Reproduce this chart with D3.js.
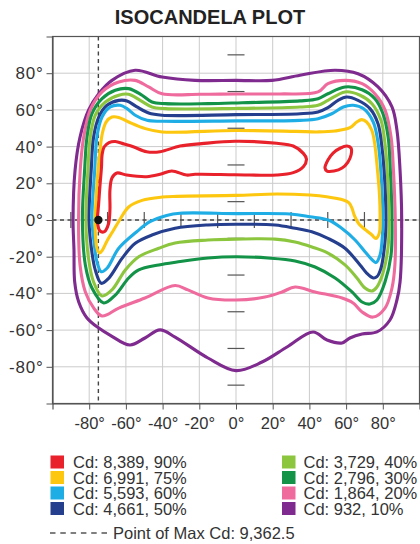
<!DOCTYPE html>
<html><head><meta charset="utf-8">
<script src="https://cdn.jsdelivr.net/npm/d3@7"></script>
<style>
html,body{margin:0;padding:0;background:#fff;}
svg{display:block;font-family:"Liberation Sans",Arial,Helvetica,sans-serif;}
</style></head><body>
<svg id="chart" width="420" height="544"></svg>
<script>
// ---------- data ----------
const title = "ISOCANDELA PLOT";
const xTicks = [-80,-60,-40,-20,0,20,40,60,80];
const yTicks = [80,60,40,20,0,-20,-40,-60,-80];
const gridValues = [-80,-60,-40,-20,0,20,40,60,80];
const centerTicks = [-90,-70,-50,-30,-10,10,30,50,70,90];
const maxPoint = [-75, 0];
const maxLabel = "Point of Max Cd: 9,362.5";
const levelLabels = ["Cd: 8,389, 90%","Cd: 6,991, 75%","Cd: 5,593, 60%","Cd: 4,661, 50%",
                     "Cd: 3,729, 40%","Cd: 2,796, 30%","Cd: 1,864, 20%","Cd: 932, 10%"];
const levelColors = ["#e8212b","#fdc70f","#1fade6","#253f8e","#8cc63f","#129347","#ef6b9d","#7f2a8e"];

// contour points [horizontal deg, vertical deg]
const cd90 = [[-73,35.4],[-71.9,39.8],[-69.2,42.2],[-65.8,42.8],[-61,41.4],[-56,39.9],[-48.7,37.2],[-41.4,37.2],[-30.5,40.3],[-18.7,41.6],[-0.5,42.9],[22.2,41.8],[31.2,40.3],[36.7,36.3],[38.4,33.2],[36.7,29],[31.2,25.8],[22.2,24.5],[-0.5,24.7],[-22.3,24.9],[-26.9,24.5],[-35,26.7],[-41.4,24.9],[-48.7,23.6],[-59.6,24.5],[-64.9,25.6],[-67.6,22.9],[-68.7,16.3],[-68.7,5.4],[-69.5,-2.2],[-71.7,-6.3],[-74.1,-6],[-75.5,-1.1],[-74.9,8.2],[-74.1,19.1],[-73.3,28.9]];
const cd90b = [[48.5,28.3],[50.1,32.7],[52.9,36.5],[56.7,39.1],[60.5,40.3],[62.7,39.2],[62.7,35.4],[61,31.6],[57.8,28.3],[53.4,26.7],[49.6,26.7]];
const cd75 = [[-76.8,0],[-76.3,10.9],[-75.2,27.2],[-74.1,38.1],[-72.8,47.4],[-70.8,53.4],[-67.6,56.1],[-63.9,55.9],[-58.5,53.4],[-49.4,49.8],[-40.3,48],[0,48.8],[32.2,48.3],[44.9,48],[54,48.5],[62.1,50.3],[65.8,53.4],[68.5,54.7],[71.2,53.4],[74,48.9],[75.6,41.6],[77.1,27.2],[78.2,13.6],[78.5,0],[78.1,-7.1],[76.3,-10.1],[74.1,-8.2],[70.8,-5.5],[67,-2.2],[64.6,2.2],[63.2,6.5],[61.6,9.3],[58.5,10.9],[49.4,12.7],[40.3,13.6],[22.2,14.2],[0,13.4],[-32.2,12.9],[-40.3,12.5],[-51.2,10.7],[-58.5,7.1],[-63.4,0],[-67,-6],[-70.3,-11.4],[-72.8,-16.4],[-74.4,-18],[-75.8,-15.3],[-76.6,-8.2]];
const cd60 = [[-78.5,0],[-77,27.2],[-75.8,45.2],[-73,56.1],[-68.5,61.6],[-63.1,62.5],[-59.4,60.7],[-54.9,57.1],[-48.5,54.3],[-40.3,53.8],[0,54],[34.9,54.3],[44.7,55.2],[52.2,57.9],[58.5,61.6],[63.9,62.5],[69.4,60.7],[74.8,53.4],[77.5,41.6],[78.9,27.2],[80.1,0],[79.8,-8.2],[78.5,-19.1],[76.3,-23.2],[74.3,-21.8],[70.3,-17.3],[64.9,-10.9],[57.6,-4.5],[50.3,0],[40.3,1.8],[29.4,3.3],[0,3.5],[-30.5,3.7],[-37.8,2.5],[-46.9,-0.9],[-54.1,-6.4],[-63.9,-15.4],[-70.3,-26.3],[-73.4,-28.2],[-75.8,-22.7],[-77.4,-11.8]];
const cd50 = [[-80.1,0],[-78.9,27.2],[-77.6,45.2],[-74.8,56.1],[-70.3,62.5],[-63.9,65.2],[-59.4,64.9],[-54,61.6],[-47.6,58.3],[-40.3,57.1],[0,57.4],[34.9,57.9],[44.7,58.9],[50.1,61.2],[55.6,65.2],[60.3,67],[66.5,65.2],[73,60.7],[77.4,52.5],[79.3,41.6],[80.7,27.2],[81.7,0],[81.2,-11.8],[79,-26.2],[76.8,-30.9],[74.8,-31.6],[71.2,-28.9],[67.6,-24.5],[59.4,-15.4],[50.1,-10],[41.3,-6.4],[32.2,-4.5],[21.3,-2.7],[0,-2.3],[-15.3,-2.7],[-33.2,-4.5],[-45.8,-8.2],[-54.9,-12.7],[-62.1,-20.9],[-69.4,-31.8],[-73.4,-34.5],[-76.7,-27.2],[-78.8,-15.4]];
const cd40 = [[-81.8,0],[-80.7,27.2],[-79.4,45.2],[-76.7,57.1],[-71.2,64.3],[-63.9,68],[-58.5,68.5],[-52.2,65.2],[-45.8,61.6],[-38.5,60.7],[0,60.8],[34.9,61.6],[44.7,62.5],[50.1,65.2],[59.4,69.8],[67.6,68],[74.1,63.4],[79,54.3],[81.2,41.6],[82.4,27.2],[83.4,0],[82.8,-15.3],[80.1,-28.9],[76.8,-36.5],[74.1,-38.7],[70.3,-37.1],[65.9,-31.6],[59.4,-24.5],[50.1,-18],[41.4,-14.7],[32.2,-12],[21.3,-10.4],[0,-10.4],[-15.3,-10.9],[-33.2,-12.5],[-42.1,-15.4],[-53,-20],[-60.3,-27.2],[-67.6,-38.1],[-73,-41.4],[-77.6,-33.8],[-80.4,-20.7]];
const cd30 = [[-83.7,0],[-82.5,27.2],[-81.2,45.2],[-78.5,57.9],[-73,66.1],[-65.8,70.7],[-58.5,71.6],[-51.2,68],[-45.8,64.3],[-38.5,63.4],[-15.3,63.4],[3.3,63.9],[34.9,64.9],[44.7,66.1],[50.1,68.8],[59.4,72.5],[68.7,71],[75.7,66.1],[80.1,57.9],[82.9,45.2],[84.1,27.2],[85,0],[84.5,-19.1],[81.2,-33.8],[76.8,-43.6],[73,-45.8],[68.7,-44.7],[63.2,-39.2],[54,-31.6],[43.1,-25.6],[32.2,-22.3],[17.4,-20.7],[0,-20],[-15.3,-20.7],[-32.2,-22.9],[-42.1,-24.5],[-53,-27.2],[-58.5,-31.6],[-65.8,-40.9],[-72.1,-45.2],[-78.5,-37.1],[-82.1,-24.5]];
const cd20 = [[-85.8,0],[-85,-24.5],[-82.1,-39.2],[-77.5,-48],[-73,-52.3],[-63.9,-48],[-49.6,-42.5],[-33.2,-35.7],[-26.2,-38.1],[-15.3,-42.5],[0,-43.6],[15.8,-42],[25.1,-39.2],[32.2,-36.5],[43.1,-39.2],[57.8,-42.5],[63.8,-45.2],[68.7,-50.1],[74.7,-52.9],[81.2,-48],[85,-37.1],[86.6,-24.5],[86.8,0],[85.8,27.2],[84.5,45.2],[81.2,60],[75.7,68.8],[68.7,74.3],[59.4,76.1],[50.1,74.3],[44.7,69.8],[24,68.7],[0,68.7],[-19.6,68.5],[-40.3,68.8],[-47.6,72.5],[-54.9,76.1],[-63.9,75.2],[-73,69.8],[-79.4,60],[-83,45.2],[-84.9,27.2]];
const cd10 = [[-88.8,0],[-88.3,-16],[-87.9,-33.8],[-85.7,-44.7],[-81.2,-53.4],[-74.8,-58.9],[-68.7,-62.7],[-57.8,-68.1],[-49.6,-64.3],[-41.4,-59.9],[-33.2,-63.8],[-15.3,-75.2],[0,-82.1],[14.2,-77.4],[27.8,-69.2],[42,-61],[49.6,-65.4],[57.8,-67],[62.1,-64.3],[68.7,-62.1],[76.8,-61],[83.9,-54.5],[87.7,-43.6],[89.4,-33.8],[90.3,0],[89.4,27.2],[87.7,49],[85,61.6],[77.4,72.5],[66.5,79.7],[54,81.6],[34.9,78.9],[19.6,76.1],[0,76.1],[-22.3,76.1],[-40.3,77.9],[-55,81.6],[-67.6,76.1],[-74.8,68.8],[-80.3,60],[-85,45.2],[-87.7,27.2]];

// ---------- drawing ----------
const svg = d3.select("#chart");
const x = d3.scaleLinear().domain([-100,100]).range([52.5,419.5]);
const y = d3.scaleLinear().domain([-100,100]).range([403.5,36.5]);

svg.append("text").attr("x",210).attr("y",24).attr("text-anchor","middle")
  .attr("font-size",20).attr("font-weight","bold").attr("fill","#222").text(title);

const plot = svg.append("g");
// grid
plot.selectAll(".gx").data(gridValues).enter().append("line")
  .attr("x1",d=>x(d)).attr("x2",d=>x(d)).attr("y1",y(100)).attr("y2",y(-100))
  .attr("stroke","#cbcbcb").attr("stroke-width",1);
plot.selectAll(".gy").data(gridValues).enter().append("line")
  .attr("y1",d=>y(d)).attr("y2",d=>y(d)).attr("x1",x(-100)).attr("x2",x(100))
  .attr("stroke","#cbcbcb").attr("stroke-width",1);

// crosshair dashed lines through max point
plot.append("line").attr("x1",x(-100)).attr("x2",x(100)).attr("y1",y(maxPoint[1])).attr("y2",y(maxPoint[1]))
  .attr("stroke","#444").attr("stroke-width",1.4).attr("stroke-dasharray","4,3.5");
plot.append("line").attr("x1",x(maxPoint[0])).attr("x2",x(maxPoint[0])).attr("y1",y(100)).attr("y2",y(-100))
  .attr("stroke","#444").attr("stroke-width",1.4).attr("stroke-dasharray","4,3.5");

// center ticks
plot.selectAll(".ctx").data(centerTicks).enter().append("line")
  .attr("x1",d=>x(d)).attr("x2",d=>x(d)).attr("y1",y(0)-8).attr("y2",y(0)+8)
  .attr("stroke","#555").attr("stroke-width",1.2);
plot.selectAll(".cty").data(centerTicks).enter().append("line")
  .attr("y1",d=>y(d)).attr("y2",d=>y(d)).attr("x1",x(0)-8.5).attr("x2",x(0)+8.5)
  .attr("stroke","#555").attr("stroke-width",1.2);

// contours
const line = d3.line().x(d=>x(d[0])).y(d=>y(d[1])).curve(d3.curveCatmullRomClosed.alpha(0.5));
const contours = [[cd10,7],[cd20,6],[cd30,5],[cd40,4],[cd50,3],[cd60,2],[cd75,1],[cd90,0],[cd90b,0]];
contours.forEach(([pts,ci])=>{
  plot.append("path").attr("d",line(pts)).attr("fill","none")
    .attr("stroke",levelColors[ci]).attr("stroke-width",3.1).attr("stroke-linejoin","round");
});

// max point
plot.append("circle").attr("cx",x(maxPoint[0])).attr("cy",y(maxPoint[1])).attr("r",4.2).attr("fill","#111");

// frame
svg.append("rect").attr("x",x(-100)).attr("y",y(100)).attr("width",x(100)-x(-100)).attr("height",y(-100)-y(100))
  .attr("fill","none").attr("stroke","#555").attr("stroke-width",1.2);

// axes
const fmt = d => `${d}°`;
const xAxis = svg.append("g").attr("transform",`translate(0,${y(-100)})`)
  .call(d3.axisBottom(x).tickValues(xTicks).tickFormat(fmt).tickSize(6).tickPadding(8));
const yAxis = svg.append("g").attr("transform",`translate(${x(-100)},0)`)
  .call(d3.axisLeft(y).tickValues(yTicks).tickFormat(fmt).tickSize(6).tickPadding(3));
[xAxis,yAxis].forEach(a=>{
  a.select(".domain").attr("stroke","#555").attr("stroke-width",1.2);
  a.selectAll(".tick line").attr("stroke","#555");
  a.selectAll("text").attr("fill","#333")
    .attr("font-family",'"Liberation Sans",Arial,sans-serif');
});
xAxis.selectAll("text").attr("font-size",16.5);
yAxis.selectAll("text").attr("font-size",17).attr("letter-spacing","0.8px");

// legend
const legend = svg.append("g");
const colX = [50.5, 282];
levelLabels.forEach((lab,i)=>{
  const col = Math.floor(i/4), row = i%4;
  const g = legend.append("g").attr("transform",`translate(${colX[col]},${455.5+row*15.5})`);
  g.append("rect").attr("width",13.5).attr("height",13).attr("fill",levelColors[i]);
  g.append("text").attr("x",col ? 21.5 : 22.5).attr("y",12.8).attr("font-size",16.5).attr("fill","#333").text(lab);
});
legend.append("line").attr("x1",50).attr("x2",108).attr("y1",533).attr("y2",533)
  .attr("stroke","#555").attr("stroke-width",1.3).attr("stroke-dasharray","5.5,4.8");
legend.append("text").attr("x",113).attr("y",538.5).attr("font-size",16.5).attr("fill","#333").text(maxLabel);
</script>
</body></html>
